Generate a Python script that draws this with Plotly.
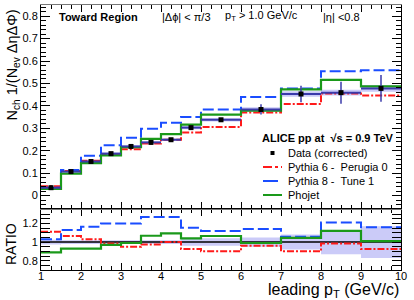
import plotly.graph_objects as go

# ---------------- data ----------------
bin_edges = [1, 1.5, 2, 2.5, 3, 3.5, 4, 4.5, 5, 6, 7, 8, 9, 10]
data_vals = [0.035, 0.107, 0.152, 0.187, 0.219, 0.237, 0.249, 0.303, 0.338, 0.384, 0.453, 0.459, 0.478]
data_stat = [0.002, 0.003, 0.003, 0.003, 0.003, 0.004, 0.004, 0.006, 0.008, 0.023, 0.037, 0.049, 0.060]
data_sys = [0.002, 0.003, 0.004, 0.005, 0.005, 0.005, 0.005, 0.007, 0.008, 0.010, 0.012, 0.013, 0.015]

pythia6_vals = [0.041, 0.110, 0.155, 0.185, 0.207, 0.232, 0.249, 0.281, 0.306, 0.370, 0.408, 0.455, 0.446]
pythia8_vals = [0.035, 0.114, 0.178, 0.224, 0.258, 0.298, 0.325, 0.350, 0.384, 0.440, 0.477, 0.554, 0.559]
phojet_vals = [0.030, 0.098, 0.145, 0.179, 0.216, 0.253, 0.274, 0.316, 0.361, 0.379, 0.474, 0.516, 0.487]

ratio_pythia6 = [1.11, 1.065, 1.03, 0.985, 0.95, 0.975, 1.0, 0.925, 0.90, 0.96, 0.90, 0.985, 0.925]
ratio_pythia8 = [1.03, 1.13, 1.165, 1.20, 1.20, 1.27, 1.27, 1.155, 1.12, 1.14, 1.057, 1.21, 1.158]
ratio_phojet = [0.89, 0.93, 0.93, 0.97, 0.99, 1.068, 1.093, 1.04, 1.065, 0.99, 1.046, 1.12, 1.01]
ratio_band = [0.025, 0.02, 0.02, 0.02, 0.02, 0.02, 0.02, 0.04, 0.04, 0.05, 0.08, 0.13, 0.17]

x_ticks = [1, 2, 3, 4, 5, 6, 7, 8, 9, 10]
series_names = ["Data (corrected)", "Pythia 6 -  Perugia 0", "Pythia 8 -  Tune 1", "Phojet"]

# ---------------- styles ----------------
FONT = "Liberation Sans, Arial, Helvetica, sans-serif"
RED = "#ff1a1a"
BLUE = "#1a4dff"
GREEN = "#1a991a"
DATA_LINE = "#3a3aaa"
BAND = "rgba(175,175,245,0.65)"
RED_DASH = "7px,2px,2px,2px"
BLUE_DASH = "11px,4px"

centers = [(a + b) / 2 for a, b in zip(bin_edges[:-1], bin_edges[1:])]
halfw = [(b - a) / 2 for a, b in zip(bin_edges[:-1], bin_edges[1:])]


def steps(vals):
    return list(vals) + [vals[-1]]


fig = go.Figure()

# top panel: data band
lo = [v - s for v, s in zip(data_vals, data_sys)]
hi = [v + s for v, s in zip(data_vals, data_sys)]
fig.add_trace(go.Scatter(x=bin_edges, y=steps(lo), mode="lines", line=dict(width=0, shape="hv"),
                         xaxis="x2", yaxis="y", showlegend=False, hoverinfo="skip"))
fig.add_trace(go.Scatter(x=bin_edges, y=steps(hi), mode="lines", line=dict(width=0, shape="hv"),
                         fill="tonexty", fillcolor=BAND, xaxis="x2", yaxis="y", showlegend=False,
                         hoverinfo="skip"))

# MC histograms (top)
for vals, col, dash, w in [(pythia6_vals, RED, RED_DASH, 2), (pythia8_vals, BLUE, BLUE_DASH, 2),
                           (phojet_vals, GREEN, "solid", 2.2)]:
    fig.add_trace(go.Scatter(x=bin_edges, y=steps(vals), mode="lines",
                             line=dict(color=col, width=w, dash=dash, shape="hv"),
                             xaxis="x2", yaxis="y", showlegend=False))

# data points
fig.add_trace(go.Scatter(x=centers, y=data_vals, mode="markers",
                         marker=dict(symbol="square", size=5, color="black"),
                         error_x=dict(type="data", array=halfw, color=DATA_LINE, thickness=2, width=0),
                         error_y=dict(type="data", array=data_stat, color=DATA_LINE, thickness=1.5, width=0),
                         xaxis="x2", yaxis="y", showlegend=False))

# ratio panel
rlo = [1 - b for b in ratio_band]
rhi = [1 + b for b in ratio_band]
fig.add_trace(go.Scatter(x=bin_edges, y=steps(rlo), mode="lines", line=dict(width=0, shape="hv"),
                         xaxis="x", yaxis="y2", showlegend=False, hoverinfo="skip"))
fig.add_trace(go.Scatter(x=bin_edges, y=steps(rhi), mode="lines", line=dict(width=0, shape="hv"),
                         fill="tonexty", fillcolor=BAND, xaxis="x", yaxis="y2", showlegend=False,
                         hoverinfo="skip"))
fig.add_trace(go.Scatter(x=[bin_edges[0], bin_edges[-1]], y=[1, 1], mode="lines",
                         line=dict(color="black", width=1.5), xaxis="x", yaxis="y2", showlegend=False))
for vals, col, dash, w in [(ratio_pythia6, RED, RED_DASH, 2), (ratio_pythia8, BLUE, BLUE_DASH, 2),
                           (ratio_phojet, GREEN, "solid", 2.2)]:
    fig.add_trace(go.Scatter(x=bin_edges, y=steps(vals), mode="lines",
                             line=dict(color=col, width=w, dash=dash, shape="hv"),
                             xaxis="x", yaxis="y2", showlegend=False))

W, H = 414, 300
L, R, T, B = 41, 13, 5, 30
PW, PH = W - L - R, H - T - B
split = (270 - 209) / PH


def px(xp):
    return (xp - L) / PW


def py(yp):
    return (H - B - yp) / PH


axis_common = dict(showline=True, linecolor="black", linewidth=1, mirror="allticks", ticks="inside",
                   showgrid=False, zeroline=False, tickcolor="black",
                   tickfont=dict(family=FONT, size=11, color="black"))

fig.update_layout(
    width=W, height=H, margin=dict(l=L, r=R, t=T, b=B),
    plot_bgcolor="white", paper_bgcolor="white",
    font=dict(family=FONT, color="black"),
    showlegend=False,
    xaxis=dict(range=[1, 10], domain=[0, 1], anchor="y2", tickvals=x_ticks, ticklen=7,
               showticklabels=False,
               minor=dict(dtick=0.25, tick0=1, ticklen=4, ticks="inside", tickcolor="black"), **axis_common),
    # tick-label carrier axis, lifted a few pixels so labels sit close to the frame (ROOT style)
    xaxis3=dict(range=[1, 10], domain=[0, 1], anchor="free", overlaying="x", position=2 / PH,
                tickvals=x_ticks, ticks="", showline=False, showgrid=False, zeroline=False,
                tickfont=dict(family=FONT, size=11, color="black")),
    xaxis2=dict(range=[1, 10], domain=[0, 1], anchor="y", matches="x", tickvals=x_ticks, ticklen=7,
                showticklabels=False, linecolor="#777777",
                minor=dict(dtick=0.25, tick0=1, ticklen=4, ticks="inside", tickcolor="black"),
                **{k: v for k, v in axis_common.items() if k != "linecolor"}),
    yaxis=dict(range=[-0.06, 0.85], domain=[split, 1], anchor="x2", dtick=0.1, tick0=0, ticklen=9,
               tickformat="~g",
               minor=dict(dtick=0.02, ticklen=5, ticks="inside", tickcolor="black"), **axis_common),
    yaxis2=dict(range=[0.70, 1.355], domain=[0, split], anchor="x", tickvals=[0.8, 1.0, 1.2],
                ticktext=["0.8", "1", "1.2"], ticklen=9,
                minor=dict(dtick=0.05, tick0=0.7, ticklen=5, ticks="inside", tickcolor="black"),
                **axis_common),
)
# invisible helper so the label axis is drawn
fig.add_trace(go.Scatter(x=[bin_edges[0]], y=[1.0], mode="markers", marker=dict(opacity=0),
                         xaxis="x3", yaxis="y2", showlegend=False, hoverinfo="skip"))

ann = []
hdr_y = py(17)
ann.append(dict(text="<b>Toward Region</b>", x=px(57), y=hdr_y, xanchor="left", yanchor="middle",
                font=dict(size=11)))
ann.append(dict(text="|Δϕ| < π/3", x=px(160), y=hdr_y, xanchor="left", yanchor="middle", font=dict(size=11)))
ann.append(dict(text="p<sub>T</sub> > 1.0 GeV/c", x=px(223), y=hdr_y + 0.005, xanchor="left",
                yanchor="middle", font=dict(size=11)))
ann.append(dict(text="|η| <0.8", x=px(321), y=hdr_y, xanchor="left", yanchor="middle", font=dict(size=11)))
ann.append(dict(text="<b>ALICE pp at  √s = 0.9 TeV</b>", x=px(260), y=py(138), xanchor="left",
                yanchor="middle", font=dict(size=11)))

# legend
leg_rows = [153, 167, 181, 195]
for name, yy in zip(series_names, leg_rows):
    ann.append(dict(text=name, x=px(286), y=py(yy), xanchor="left", yanchor="middle", font=dict(size=11)))

# axis titles
ann.append(dict(text="N<sub>ch</sub> 1/(N<sub>ev</sub> ΔηΔΦ)", x=-L / PW + 1 / PW, y=py(8), xanchor="left",
                yanchor="top", textangle=-90, font=dict(size=14.5)))
ann.append(dict(text="RATIO", x=-L / PW + 1 / PW, y=py(244), xanchor="left", yanchor="middle",
                textangle=-90, font=dict(size=14)))
ann.append(dict(text="leading p<sub>T</sub> (GeV/c)", x=1.0, y=py(279), xanchor="right", yanchor="top",
                font=dict(size=16)))
for a in ann:
    a.update(xref="paper", yref="paper", showarrow=False)
fig.update_layout(annotations=ann)

shapes = []
for yy, col, dash in [(167, RED, "dashdot"), (181, BLUE, "longdash"), (195, GREEN, "solid")]:
    shapes.append(dict(type="line", xref="paper", yref="paper", x0=px(263), x1=px(282), y0=py(yy), y1=py(yy),
                       line=dict(color=col, width=2, dash=dash)))
shapes.append(dict(type="rect", xref="paper", yref="paper", x0=px(270.5), x1=px(274.5), y0=py(151),
                   y1=py(155), fillcolor="black", line=dict(width=0)))
fig.update_layout(shapes=shapes)

fig.write_html("out.html", config={"displayModeBar": False},
               post_script="document.body.style.margin='0';document.body.style.overflow='hidden';")
